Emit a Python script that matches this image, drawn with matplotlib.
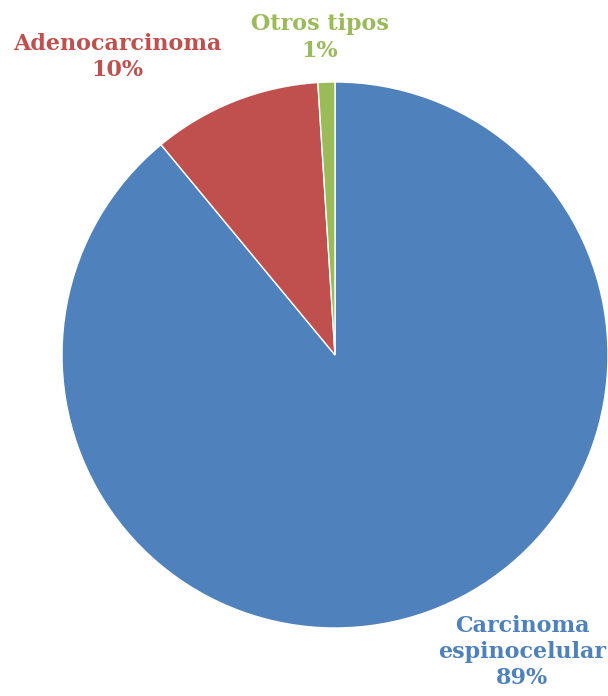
import matplotlib.pyplot as plt

tipos = ["Carcinoma\nespinocelular", "Adenocarcinoma", "Otros tipos"]
porcentajes = [89, 10, 1]
colores = ["#4F81BD", "#C0504D", "#9BBB59"]

# posiciones de las etiquetas (coordenadas de datos del pie)
pos_etiquetas = [(0.685, -1.088), (-0.799, 1.092), (-0.055, 1.163)]

fig = plt.figure(figsize=(6.08, 6.96), dpi=100)
ax = fig.add_axes([0.102, 0.0977, 0.898, 0.7845])

ax.pie(porcentajes, colors=colores, startangle=90, counterclock=False,
       radius=1, wedgeprops={"edgecolor": "white", "linewidth": 1})
ax.set_xlim(-1, 1)
ax.set_ylim(-1, 1)
ax.set_aspect("equal")
ax.axis("off")

for nombre, pct, col, (x, y) in zip(tipos, porcentajes, colores, pos_etiquetas):
    ax.text(x, y, f"{nombre}\n{pct}%", ha="center", va="center", color=col,
            fontsize=16, fontweight="bold", family="DejaVu Serif",
            linespacing=1.25, clip_on=False)

plt.savefig("out.png", dpi=100)
